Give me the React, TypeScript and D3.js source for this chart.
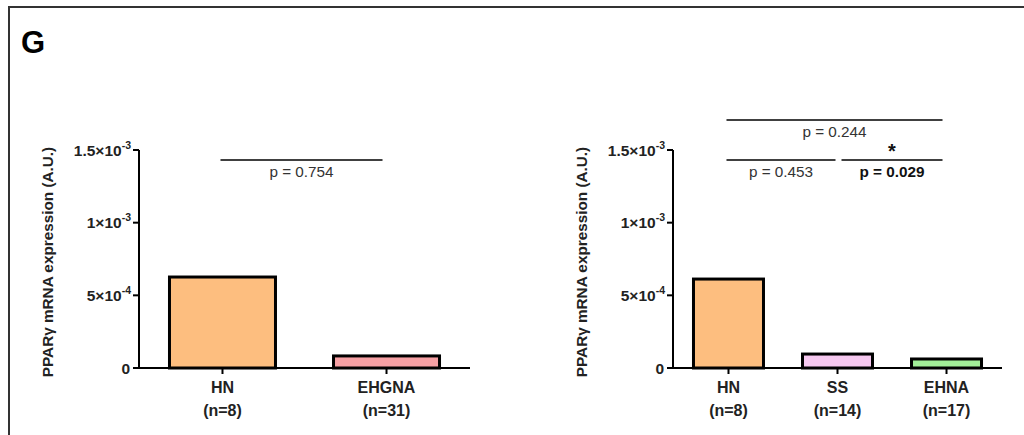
import React from "react";
import * as d3 from "d3";

// data
const yTickValues = [0, 5e-4, 1e-3, 1.5e-3];
const yTickMantissa = ["0", "5", "1", "1.5"];
const yTickExponent = ["", "-4", "-3", "-3"];

const leftGroups = ["HN", "EHGNA"];
const leftN = ["(n=8)", "(n=31)"];
const leftValues = [6.26e-4, 8.3e-5];
const leftColors = ["#FDBE7F", "#F6A0A4"];

const rightGroups = ["HN", "SS", "EHNA"];
const rightN = ["(n=8)", "(n=14)", "(n=17)"];
const rightValues = [6.12e-4, 9.6e-5, 6.2e-5];
const rightColors = ["#FDBE7F", "#F6C8F0", "#A2EF98"];

const leftTests = [{ a: "HN", b: "EHGNA", p: "p = 0.754", level: 0, bold: false, star: false }];
const rightTests = [
  { a: "HN", b: "EHNA", p: "p = 0.244", level: 1, bold: false, star: false },
  { a: "HN", b: "SS", p: "p = 0.453", level: 0, bold: false, star: false },
  { a: "SS", b: "EHNA", p: "p = 0.029", level: 0, bold: true, star: true },
];

const FONT = "Liberation Sans, Arial, sans-serif";

type Test = { a: string; b: string; p: string; level: number; bold: boolean; star: boolean };

const Panel = ({
  x0, x1, groups, ns, values, colors, tests, barWidth, labelX,
}: {
  x0: number; x1: number; groups: string[]; ns: string[]; values: number[];
  colors: string[]; tests: Test[]; barWidth: number; labelX: number;
}) => {
  const y = d3.scaleLinear().domain([0, 1.5e-3]).range([368, 150]);
  const x = d3.scalePoint<string>().domain(groups).range([x0, x1]).padding(0.509);
  const lineY = [160, 120];
  return (
    <g fontFamily={FONT}>
      {/* y axis */}
      <line x1={x0} x2={x0} y1={y(1.5e-3)} y2={y(0) + 1} stroke="#000" strokeWidth={2} />
      {yTickValues.map((v, i) => (
        <g key={i} transform={`translate(${x0},${y(v)})`}>
          <line x1={-6} x2={0} stroke="#000" strokeWidth={2} />
          <text x={yTickExponent[i] ? -8 : -9} dy="0.36em" textAnchor="end" fontSize={15.5} fontWeight="bold" fill="#222">
            {yTickExponent[i] ? (
              <>
                {yTickMantissa[i]}×10
                <tspan fontSize={10.5} dy="-0.65em">{yTickExponent[i]}</tspan>
              </>
            ) : (
              yTickMantissa[i]
            )}
          </text>
        </g>
      ))}
      <text
        transform={`translate(${labelX},${(y(0) + y(1.5e-3)) / 2 + 3}) rotate(-90)`}
        textAnchor="middle"
        fontSize={15.3}
        fontWeight="bold"
        fill="#222"
      >
        PPARγ mRNA expression (A.U.)
      </text>
      {/* bars */}
      {groups.map((g, i) => (
        <rect
          key={g}
          x={(x(g) as number) - barWidth / 2}
          y={y(values[i])}
          width={barWidth}
          height={y(0) - y(values[i])}
          fill={colors[i]}
          stroke="#000"
          strokeWidth={3}
        />
      ))}
      {/* x axis */}
      <line x1={x0 - 1} x2={x1} y1={y(0)} y2={y(0)} stroke="#000" strokeWidth={2} />
      {groups.map((g, i) => (
        <g key={g} transform={`translate(${x(g)},${y(0)})`}>
          <line y1={0} y2={6} stroke="#000" strokeWidth={2} />
          <text y={25} textAnchor="middle" fontSize={16} fontWeight="bold" fill="#222">{g}</text>
          <text y={48} textAnchor="middle" fontSize={16} fontWeight="bold" fill="#222">{ns[i]}</text>
        </g>
      ))}
      {/* significance brackets */}
      {tests.map((t, i) => {
        const xa = (x(t.a) as number) + (t.a === groups[0] ? -2 : 4);
        const xb = (x(t.b) as number) + (t.b === groups[groups.length - 1] ? -4 : -2);
        const ly = lineY[t.level];
        return (
          <g key={i}>
            <line x1={xa} x2={xb} y1={ly} y2={ly} stroke="#000" strokeWidth={1.3} />
            <text
              x={(xa + xb) / 2}
              y={ly + 17}
              textAnchor="middle"
              fontSize={15.3}
              fontWeight={t.bold ? "bold" : "normal"}
              fill={t.bold ? "#111" : "#333"}
            >
              {t.p}
            </text>
            {t.star && (
              <text x={(xa + xb) / 2} y={ly - 2} textAnchor="middle" fontSize={20} fontWeight="bold" fill="#111">
                *
              </text>
            )}
          </g>
        );
      })}
    </g>
  );
};

export default function App() {
  return (
    <svg width={1024} height={435} style={{ position: "absolute", left: 0, top: 0, background: "#fff" }}>
      <rect width={1024} height={435} fill="#fff" />
      <path d="M9,440 V7 H1024" fill="none" stroke="#333" strokeWidth={2} />
      <text x={21} y={53} fontFamily={FONT} fontSize={31} fontWeight="bold" fill="#000">G</text>
      <Panel
        x0={139}
        x1={470}
        groups={leftGroups}
        ns={leftN}
        values={leftValues}
        colors={leftColors}
        tests={leftTests}
        barWidth={106}
        labelX={53}
      />
      <Panel
        x0={673}
        x1={1002}
        groups={rightGroups}
        ns={rightN}
        values={rightValues}
        colors={rightColors}
        tests={rightTests}
        barWidth={70}
        labelX={587}
      />
    </svg>
  );
}
